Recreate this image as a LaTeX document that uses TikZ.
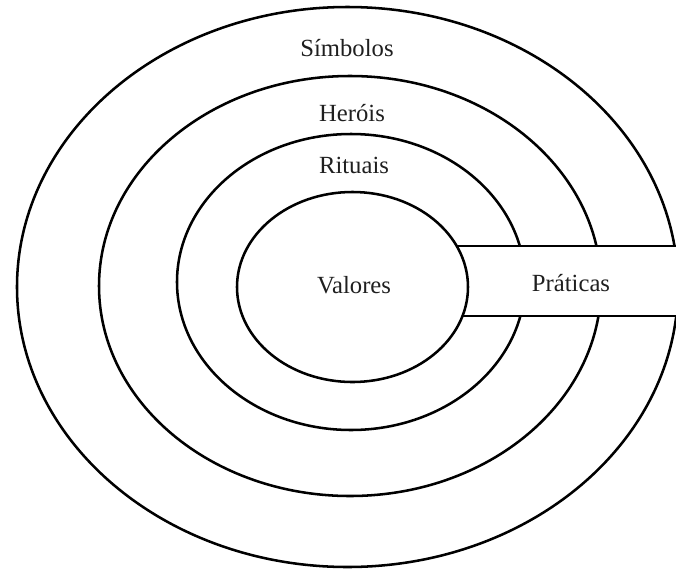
\documentclass[tikz,border=0pt]{standalone}
\usepackage{fontspec}
\setmainfont{Liberation Serif}
\begin{document}
\begin{tikzpicture}[x=0.75pt,y=-0.75pt,
  ring/.style={draw=black, line width=1.9pt},
  lbl/.style={font=\fontsize{18.5}{20}\selectfont, inner sep=0pt, text=black!88}]
\useasboundingbox (0,0) rectangle (676,569);
\fill[white] (0,0) rectangle (676,569);
% rings
\draw[ring] (347.5,287) ellipse [x radius=330.5, y radius=280];
\draw[ring] (350,286) ellipse [x radius=251, y radius=210];
\draw[ring] (351,282) ellipse [x radius=174, y radius=148];
% practices band
\fill[white] (440,246) rectangle (690,316);
\draw[ring] (440,246) -- (690,246);
\draw[ring] (440,316) -- (690,316);
% core
\draw[ring, fill=white] (352.5,287) ellipse [x radius=115.5, y radius=95];
% labels
\node[lbl] (simbolos) at (347,48) {Símbolos};
\node[lbl] (herois) at (352,113) {Heróis};
\node[lbl] (rituais) at (354,165) {Rituais};
\node[lbl] (valores) at (354,285) {Valores};
\node[lbl] (praticas) at (571,283) {Práticas};
\end{tikzpicture}
\end{document}
